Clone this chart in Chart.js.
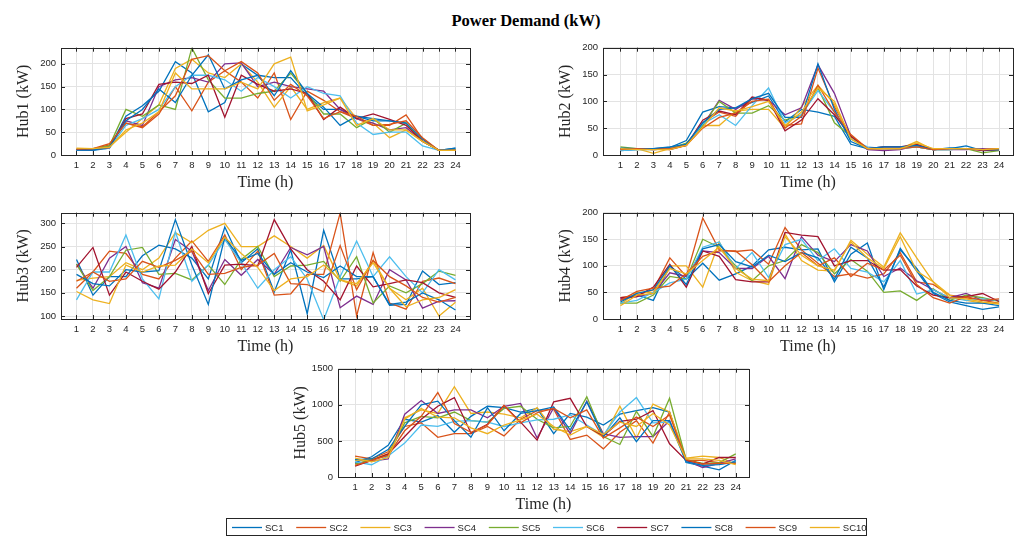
<!DOCTYPE html>
<html>
<head>
<meta charset="utf-8">
<script src="https://cdn.jsdelivr.net/npm/chart.js@4.4.1/dist/chart.umd.min.js"></script>
<style>
  body { margin: 0; background: #fff; }
  #page { position: relative; width: 1026px; height: 536px; overflow: hidden; }
  #page canvas { position: absolute; }
  #title {
    position: absolute; left: 376px; top: 11px; width: 300px; text-align: center;
    font: bold 16.5px "Liberation Serif", serif; color: #000;
  }
</style>
</head>
<body>
<div id="page">
  <div id="title">Power Demand (kW)</div>
  <canvas id="hub1"></canvas>
  <canvas id="hub2"></canvas>
  <canvas id="hub3"></canvas>
  <canvas id="hub4"></canvas>
  <canvas id="hub5"></canvas>
  <canvas id="legend" width="641" height="18" style="left:226px;top:518px;width:641px;height:18px"></canvas>
</div>
<script>
// hours on the x axis
const hours = [1,2,3,4,5,6,7,8,9,10,11,12,13,14,15,16,17,18,19,20,21,22,23,24];
const seriesNames = ["SC1","SC2","SC3","SC4","SC5","SC6","SC7","SC8","SC9","SC10"];
const palette = ["#0072BD","#D95319","#EDB120","#7E2F8E","#77AC30","#4DBEEE","#A2142F","#0072BD","#D95319","#EDB120"];

// Hub1 demand (kW), one row per scenario SC1..SC10
const hub1 = [
  [10,10,15,85,108,140,205,180,95,115,200,175,170,170,130,100,100,85,75,75,70,30,10,15],
  [12,13,22,70,60,90,150,97,160,185,160,125,180,78,140,120,95,80,65,65,88,35,10,10],
  [14,13,18,50,80,110,190,210,180,170,200,160,105,150,100,115,125,80,70,38,55,30,10,10],
  [10,12,18,75,65,150,165,170,160,200,202,150,160,150,145,140,100,80,70,55,60,30,10,12],
  [12,14,20,100,85,110,100,235,165,125,125,135,140,180,135,90,90,60,80,50,70,30,10,12],
  [10,12,15,65,80,100,150,175,175,165,140,170,150,125,150,135,130,70,45,50,50,20,10,10],
  [12,12,16,80,90,155,160,157,175,83,175,155,140,145,135,78,105,80,90,78,65,30,10,10],
  [11,11,17,75,100,145,115,175,220,145,165,175,130,185,135,105,65,85,80,75,70,35,10,15],
  [13,14,25,70,62,95,130,210,218,185,205,180,120,155,130,80,95,85,65,67,75,38,10,10],
  [15,14,17,55,70,95,180,145,145,145,160,145,200,215,97,110,125,65,80,55,55,30,10,10]
];
const hub2 = [
  [8,10,12,14,27,80,90,88,98,110,62,85,80,72,20,12,15,15,15,10,12,17,8,9],
  [12,12,12,12,18,60,80,72,105,103,55,58,162,90,35,12,12,12,18,10,12,12,10,12],
  [12,12,3,12,20,55,55,82,85,85,50,90,130,95,30,12,12,12,25,10,12,12,10,12],
  [10,12,10,12,20,55,102,85,105,102,75,88,168,115,35,10,8,10,18,10,10,10,12,10],
  [15,12,12,12,22,55,100,78,78,92,65,75,125,60,35,12,12,12,15,10,10,12,4,8],
  [8,10,10,12,18,58,75,55,92,125,60,75,120,80,30,15,12,12,15,10,10,12,10,10],
  [12,12,12,10,18,65,82,75,108,102,45,65,105,75,35,12,15,15,20,10,12,12,8,10],
  [13,12,12,15,20,60,85,88,105,115,70,70,170,85,25,12,15,15,18,10,13,12,10,10],
  [10,12,10,12,18,50,70,78,100,104,50,72,130,80,38,12,12,12,15,10,12,12,10,12],
  [12,10,10,10,18,52,88,82,90,100,55,80,125,100,30,12,12,12,22,12,12,12,10,12]
];
const hub3 = [
  [222,145,185,185,230,253,245,225,180,292,215,245,152,243,105,285,180,180,185,123,125,197,168,172],
  [160,195,240,235,190,180,225,262,218,275,200,240,145,148,190,190,322,100,237,128,115,175,182,170],
  [177,182,185,215,200,225,280,258,285,300,250,250,273,250,225,252,178,165,220,160,135,160,100,130],
  [212,160,225,250,172,160,265,240,155,222,188,222,190,248,232,250,118,143,125,200,178,117,132,133],
  [212,155,185,242,248,190,192,178,210,168,222,250,185,208,210,218,175,228,128,165,150,170,197,188],
  [135,195,195,275,180,137,282,175,210,265,215,160,200,228,180,92,185,262,185,228,185,150,200,178],
  [205,248,145,195,175,158,195,250,148,210,212,208,308,245,200,175,135,208,163,170,178,172,150,140],
  [190,170,165,200,195,198,308,210,125,270,220,235,190,215,195,183,208,185,185,125,130,150,135,113],
  [175,195,175,180,218,205,220,240,190,192,205,210,235,170,168,152,252,157,220,185,165,140,130,140],
  [153,135,127,210,195,208,210,245,215,270,235,205,155,180,185,210,178,170,215,160,120,135,140,157]
];
const hub4 = [
  [35,45,35,100,75,105,73,85,100,130,135,130,132,70,122,143,55,133,90,48,32,25,18,23],
  [40,45,55,115,80,190,130,127,130,103,172,130,105,80,85,77,85,125,70,65,45,40,35,30],
  [28,50,50,100,100,60,145,88,72,65,160,110,92,90,148,122,98,162,115,70,45,35,30,30],
  [38,42,48,87,80,128,125,95,95,118,76,155,120,108,140,128,80,96,72,55,40,48,35,35],
  [30,30,45,80,75,150,135,100,72,100,110,140,125,85,112,90,50,53,35,57,35,45,40,33],
  [30,35,50,68,75,135,145,95,125,78,140,150,110,132,95,88,70,110,47,55,40,35,38,35],
  [40,42,60,103,60,128,118,74,70,70,163,158,155,100,110,110,92,93,62,45,40,42,48,33],
  [32,48,55,100,65,132,140,108,98,120,108,125,115,75,135,115,60,130,95,50,35,30,30,25],
  [35,52,58,62,85,118,128,128,102,70,100,125,100,115,80,105,92,120,65,40,30,42,35,38],
  [25,45,48,95,85,110,135,95,75,72,155,120,100,92,145,115,95,155,90,70,40,38,32,28]
];
const hub5 = [
  [200,280,440,800,760,850,620,840,980,960,900,950,600,880,830,720,870,920,960,900,200,150,100,230],
  [290,250,350,700,750,550,600,600,700,570,800,920,940,520,580,390,620,780,470,900,230,230,200,200],
  [230,240,320,820,930,880,1250,880,900,870,820,960,660,630,700,550,980,540,1010,900,260,290,270,180],
  [190,220,250,870,1060,880,930,930,820,980,1020,540,960,600,1050,600,550,560,560,780,230,130,190,250],
  [180,240,300,750,840,820,900,780,760,950,980,800,680,700,1110,560,450,910,560,1090,240,190,200,320],
  [210,170,290,470,720,700,770,780,760,700,750,790,800,860,720,580,900,1100,750,760,210,160,180,210],
  [150,230,320,560,800,980,1100,610,730,990,760,510,1040,1090,700,570,770,800,920,460,230,180,270,270],
  [240,250,380,700,1000,1050,780,550,960,640,880,920,970,650,1040,560,820,490,780,780,210,160,170,210],
  [160,230,300,640,840,1170,740,620,720,990,750,890,950,820,930,540,680,830,700,860,240,180,190,190],
  [260,210,270,800,950,830,820,680,600,720,790,870,700,580,700,590,760,700,880,720,250,250,230,170]
];

// y tick labels per hub
const hub1Ticks = [0,50,100,150,200];
const hub2Ticks = [0,50,100,150,200];
const hub3Ticks = [100,150,200,250,300];
const hub4Ticks = [0,50,100,150,200];
const hub5Ticks = [0,500,1000,1500];

const TICK_COLOR = "#262626";
const GRID_COLOR = "#e3e3e3";
const PAD_L = 61, PAD_T = 10, PAD_R = 6, PAD_B = 40;

// box with inward tick marks, MATLAB style
const framePlugin = {
  id: "frame",
  afterDraw(chart) {
    const { ctx, chartArea: a, scales } = chart;
    ctx.save();
    ctx.strokeStyle = TICK_COLOR;
    ctx.lineWidth = 1;
    ctx.beginPath();
    scales.x.ticks.forEach(t => {
      const px = Math.round(scales.x.getPixelForValue(t.value)) + 0.5;
      ctx.moveTo(px, a.bottom); ctx.lineTo(px, a.bottom - 4);
      ctx.moveTo(px, a.top); ctx.lineTo(px, a.top + 4);
    });
    scales.y.ticks.forEach(t => {
      const py = Math.round(scales.y.getPixelForValue(t.value)) + 0.5;
      ctx.moveTo(a.left, py); ctx.lineTo(a.left + 4, py);
      ctx.moveTo(a.right, py); ctx.lineTo(a.right - 4, py);
    });
    ctx.stroke();
    ctx.strokeRect(Math.round(a.left) + 0.5, Math.round(a.top) + 0.5,
      Math.round(a.right - a.left), Math.round(a.bottom - a.top));
    ctx.restore();
  }
};

function drawHub(id, rows, yTicks, yLabel, box) {
  const canvas = document.getElementById(id);
  const w = box.right - box.left + PAD_L + PAD_R;
  const h = box.bottom - box.top + PAD_T + PAD_B;
  canvas.width = w;
  canvas.height = h;
  canvas.style.left = (box.left - PAD_L) + "px";
  canvas.style.top = (box.top - PAD_T) + "px";
  canvas.style.width = w + "px";
  canvas.style.height = h + "px";

  const datasets = rows.map((vals, i) => ({
    label: seriesNames[i],
    data: vals.map((v, k) => ({ x: hours[k], y: v })),
    borderColor: palette[i],
    borderWidth: 1.3,
    pointRadius: 0,
    fill: false,
    tension: 0,
    order: rows.length - i
  }));

  new Chart(canvas.getContext("2d"), {
    type: "line",
    data: { datasets },
    options: {
      responsive: false,
      animation: false,
      devicePixelRatio: 1,
      layout: { padding: { left: 0, top: PAD_T, right: PAD_R, bottom: 0 } },
      plugins: { legend: { display: false }, tooltip: { enabled: false } },
      scales: {
        x: {
          type: "linear",
          min: box.xMin,
          max: box.xMax,
          afterBuildTicks: s => { s.ticks = hours.map(v => ({ value: v })); },
          afterFit: s => { s.height = PAD_B; },
          grid: { color: GRID_COLOR, drawTicks: false },
          border: { display: false },
          ticks: {
            autoSkip: false, maxRotation: 0, padding: 5, color: TICK_COLOR,
            font: { family: "Liberation Sans", size: 9.5 },
            callback: v => String(v)
          },
          title: {
            display: true, text: "Time (h)", color: TICK_COLOR,
            font: { family: "Liberation Serif", size: 16 },
            padding: { top: 0, bottom: 3 }
          }
        },
        y: {
          min: box.yMin,
          max: box.yMax,
          afterBuildTicks: s => { s.ticks = yTicks.map(v => ({ value: v })); },
          afterFit: s => { s.width = PAD_L; },
          grid: { color: GRID_COLOR, drawTicks: false },
          border: { display: false },
          ticks: {
            padding: 5, color: TICK_COLOR,
            font: { family: "Liberation Sans", size: 9.5 },
            callback: v => String(v)
          },
          title: {
            display: true, text: yLabel, color: TICK_COLOR,
            font: { family: "Liberation Serif", size: 16 },
            padding: { top: 14, bottom: 0 }
          }
        }
      }
    },
    plugins: [framePlugin]
  });
}

// shared legend below the plots
function drawLegend() {
  const canvas = document.getElementById("legend");
  const ctx = canvas.getContext("2d");
  ctx.fillStyle = "#fff";
  ctx.fillRect(0, 0, canvas.width, canvas.height);
  ctx.strokeStyle = TICK_COLOR;
  ctx.lineWidth = 1;
  ctx.strokeRect(0.5, 0.5, canvas.width - 1, canvas.height - 1);
  ctx.font = '9.5px "Liberation Sans", Arial, sans-serif';
  ctx.textBaseline = "middle";
  seriesNames.forEach((name, i) => {
    const x0 = 6 + i * 64.2;
    ctx.strokeStyle = palette[i];
    ctx.lineWidth = 1.3;
    ctx.beginPath();
    ctx.moveTo(x0, 9.5);
    ctx.lineTo(x0 + 30, 9.5);
    ctx.stroke();
    ctx.fillStyle = TICK_COLOR;
    ctx.fillText(name, x0 + 33, 10);
  });
}

drawHub("hub1", hub1, hub1Ticks, "Hub1 (kW)", { left: 61, top: 47, right: 470, bottom: 155, xMin: 0.06, xMax: 24.88, yMin: 0, yMax: 235.5 });
drawHub("hub2", hub2, hub2Ticks, "Hub2 (kW)", { left: 603, top: 47, right: 1013, bottom: 155, xMin: -0.06, xMax: 24.85, yMin: 0, yMax: 200 });
drawHub("hub3", hub3, hub3Ticks, "Hub3 (kW)", { left: 61, top: 212, right: 470, bottom: 319, xMin: 0.06, xMax: 24.88, yMin: 93.6, yMax: 323 });
drawHub("hub4", hub4, hub4Ticks, "Hub4 (kW)", { left: 603, top: 212, right: 1013, bottom: 319, xMin: -0.06, xMax: 24.85, yMin: 0, yMax: 200 });
drawHub("hub5", hub5, hub5Ticks, "Hub5 (kW)", { left: 338, top: 368, right: 749, bottom: 477, xMin: -0.03, xMax: 24.8, yMin: 0, yMax: 1500 });
drawLegend();
</script>
</body>
</html>
